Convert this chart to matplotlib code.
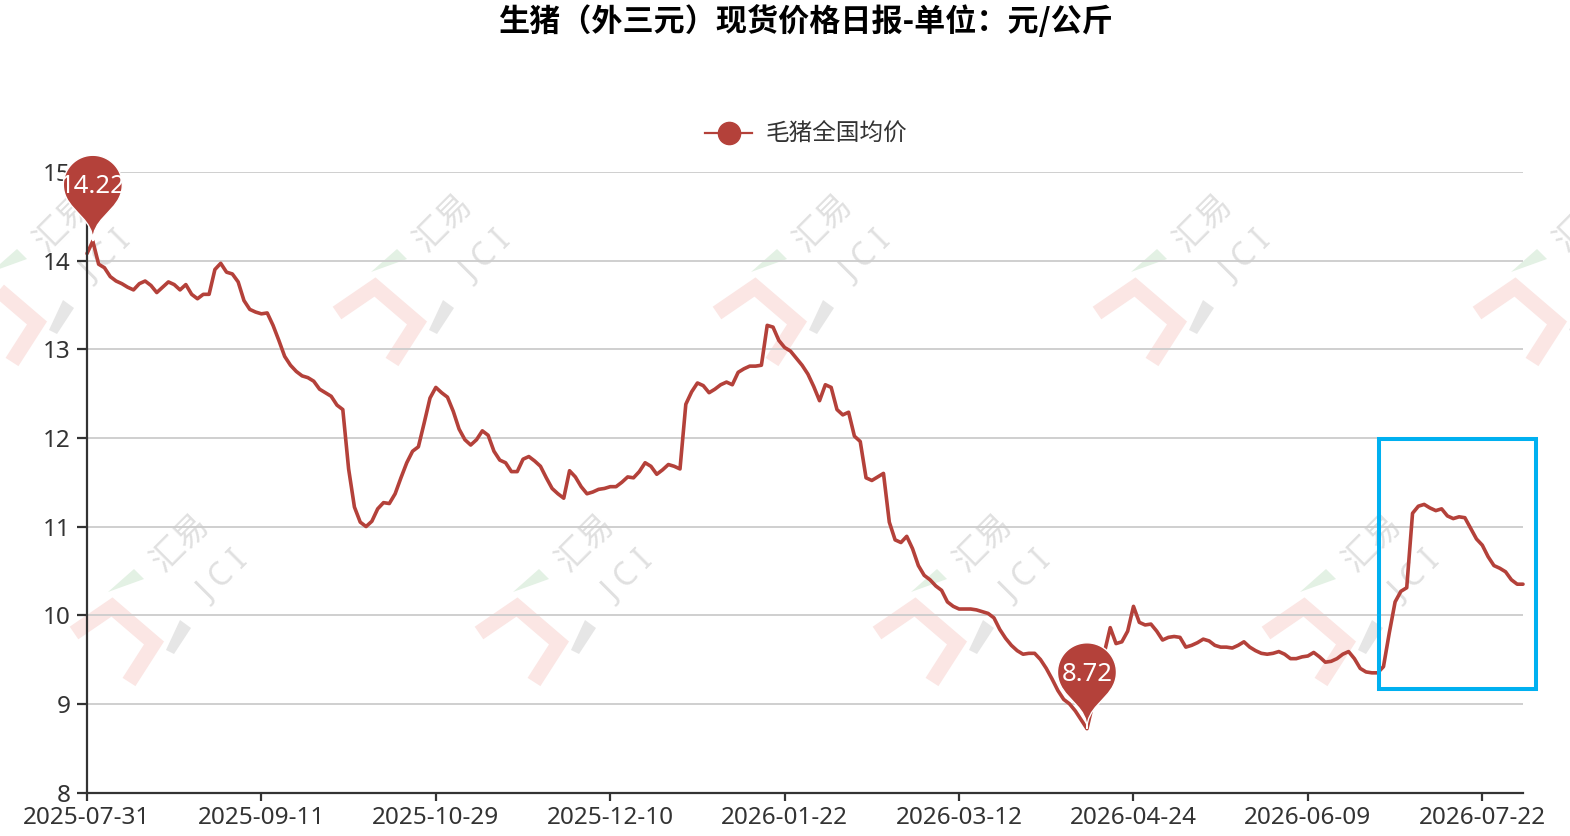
import numpy as np
import matplotlib
matplotlib.use('Agg')
import matplotlib.pyplot as plt
from matplotlib.path import Path
from matplotlib.patches import PathPatch, Polygon, Rectangle
from matplotlib.lines import Line2D
from matplotlib.transforms import Affine2D, ScaledTranslation

# ---------------- data ----------------
title = '生猪（外三元）现货价格日报-单位：元/公斤'
series_name = '毛猪全国均价'
tick_labels = ['2025-07-31', '2025-09-11', '2025-10-29', '2025-12-10', '2026-01-22',
               '2026-03-12', '2026-04-24', '2026-06-09', '2026-07-22']
label_step = 30   # one date label every 30 trading days

price = [
    14.08, 14.22, 13.96, 13.92, 13.82, 13.77, 13.74, 13.70, 13.67, 13.74,
    13.77, 13.72, 13.64, 13.70, 13.76, 13.73, 13.67, 13.73, 13.62, 13.57,
    13.62, 13.62, 13.90, 13.97, 13.87, 13.85, 13.76, 13.55, 13.45, 13.42,
    13.40, 13.41, 13.27, 13.10, 12.92, 12.82, 12.75, 12.70, 12.68, 12.64,
    12.55, 12.51, 12.47, 12.37, 12.32, 11.65, 11.22, 11.05, 11.00, 11.06,
    11.20, 11.27, 11.26, 11.37, 11.55, 11.72, 11.85, 11.90, 12.17, 12.45,
    12.57, 12.51, 12.46, 12.30, 12.10, 11.98, 11.92, 11.98, 12.08, 12.03,
    11.85, 11.75, 11.72, 11.62, 11.62, 11.76, 11.79, 11.74, 11.68, 11.55,
    11.43, 11.37, 11.32, 11.63, 11.56, 11.45, 11.37, 11.39, 11.42, 11.43,
    11.45, 11.45, 11.50, 11.56, 11.55, 11.62, 11.72, 11.68, 11.59, 11.64,
    11.70, 11.68, 11.65, 12.38, 12.52, 12.62, 12.59, 12.51, 12.55, 12.60,
    12.63, 12.60, 12.74, 12.78, 12.81, 12.81, 12.82, 13.27, 13.25, 13.10,
    13.02, 12.98, 12.90, 12.82, 12.72, 12.58, 12.42, 12.60, 12.57, 12.32,
    12.26, 12.29, 12.02, 11.96, 11.55, 11.52, 11.56, 11.60, 11.05, 10.85,
    10.82, 10.89, 10.75, 10.56, 10.45, 10.40, 10.33, 10.28, 10.15, 10.10,
    10.07, 10.07, 10.07, 10.06, 10.04, 10.02, 9.97, 9.84, 9.74, 9.66,
    9.60, 9.56, 9.57, 9.57, 9.50, 9.40, 9.28, 9.15, 9.05, 9.00,
    8.92, 8.82, 8.72, 9.00, 9.35, 9.58, 9.86, 9.68, 9.70, 9.82,
    10.10, 9.92, 9.89, 9.90, 9.82, 9.72, 9.75, 9.76, 9.75, 9.64,
    9.66, 9.69, 9.73, 9.71, 9.66, 9.64, 9.64, 9.63, 9.66, 9.70,
    9.64, 9.60, 9.57, 9.56, 9.57, 9.59, 9.56, 9.51, 9.51, 9.53,
    9.54, 9.58, 9.53, 9.47, 9.48, 9.51, 9.56, 9.59, 9.51, 9.40,
    9.36, 9.35, 9.35, 9.42, 9.80, 10.15, 10.27, 10.31, 11.15, 11.23,
    11.25, 11.21, 11.18, 11.20, 11.12, 11.09, 11.11, 11.10, 10.98, 10.86,
    10.79, 10.66, 10.56, 10.53, 10.49, 10.40, 10.35, 10.35,
]

# highlighted box (data coords: index range, price range)
box_x = (222.3, 249.3)
box_y = (9.17, 11.99)

# watermark centres (pixels, from top-left)
wm_top = [(63, 222), (443, 222), (823, 222), (1203, 222), (1583, 222)]
wm_bottom = [(180, 542), (585, 542), (983, 542), (1372, 542)]

# ---------------- style ----------------
W, H = 1570, 836
LINE = '#b4413a'
TXT = '#333333'
plt.rcParams['font.family'] = ['Noto Sans', 'Noto Sans CJK SC', 'DejaVu Sans']

fig = plt.figure(figsize=(W / 100, H / 100), dpi=100)
fig.patch.set_facecolor('white')
ax = fig.add_axes([87 / W, 1 - 792.5 / H, (1523 - 87) / W, (792.5 - 172) / H])
ax.set_facecolor('none')

x = np.arange(len(price))
ax.plot(x, price, color=LINE, lw=2.6, solid_joinstyle='round',
        solid_capstyle='round', zorder=3, clip_on=False)

ax.set_xlim(0, len(price) - 1)
ax.set_ylim(8, 15)
ax.set_yticks(range(8, 16))
ax.set_xticks(range(0, len(price), label_step))
ax.set_xticklabels(tick_labels)
ax.grid(axis='y', color='#cccccc', lw=1.3, zorder=1)
ax.set_axisbelow(True)
for s in ['top', 'right']:
    ax.spines[s].set_visible(False)
for s in ['left', 'bottom']:
    ax.spines[s].set_color(TXT)
    ax.spines[s].set_linewidth(1.6)
    ax.spines[s].set_zorder(4)
ax.tick_params(axis='y', length=7, width=1.6, color=TXT, labelsize=17.5,
               labelcolor=TXT, pad=5)
ax.tick_params(axis='x', length=6, width=1.6, color=TXT, labelsize=17.5,
               labelcolor=TXT, pad=4)


# ---------------- pins for max / min ----------------
def pin_path(r=29.5, h=98.5):
    dy = r * r / (h - r)
    cy = h - r - dy
    a = np.arcsin(dy / r)
    dx = np.cos(a) * r
    tx, ty = np.sin(a), np.cos(a)
    c1, c2 = r * 0.6, r * 0.7
    th = np.linspace(np.pi + a, -a, 60)
    verts = [(r * np.cos(t), cy + r * np.sin(t)) for t in th]
    codes = [Path.MOVETO] + [Path.LINETO] * (len(th) - 1)
    verts += [(dx - tx * c1, cy - dy - ty * c1), (0, c2), (0, 0),
              (0, c2), (-dx + tx * c1, cy - dy - ty * c1), (-dx, cy - dy),
              (-dx, cy - dy)]
    codes += [Path.CURVE4] * 6 + [Path.CLOSEPOLY]
    return Path(verts, codes), cy


pin, pin_cy = pin_path()
for idx in [int(np.argmax(price)), int(np.argmin(price))]:
    v = price[idx]
    tr = Affine2D() + ScaledTranslation(idx, v, ax.transData)
    ax.add_patch(PathPatch(pin, transform=tr, fc=LINE, ec='white', lw=1,
                           zorder=6, clip_on=False))
    ax.annotate(f'{v:.2f}', xy=(idx, v), xytext=(0, pin_cy * 0.72 - 1.5),
                textcoords='offset points', ha='center', va='center',
                color='white', fontsize=18.5, zorder=7, annotation_clip=False)

# highlight box
ax.add_patch(Rectangle((box_x[0], box_y[0]), box_x[1] - box_x[0], box_y[1] - box_y[0],
                       fill=False, ec='#00b0f0', lw=2.9, zorder=5, clip_on=False))

# ---------------- title & legend ----------------
fig.text(805 / W, 1 - 22 / H, title, ha='center', va='center', fontsize=22.4,
         fontweight='bold', family=['Noto Sans CJK SC'], color='black')

handle = Line2D([], [], color=LINE, lw=1.6, marker='o', markersize=16,
                markerfacecolor=LINE, markeredgecolor=LINE)
fig.legend([handle], [series_name], loc='center', bbox_to_anchor=(806 / W, 1 - 135 / H),
           frameon=False, fontsize=17, handlelength=2.0, handletextpad=0.55,
           labelcolor=TXT)


# ---------------- watermark ----------------
def watermark(cx, cy):
    def P(ddx, ddy):
        return ((cx + ddx) / W, 1 - (cy + ddy) / H)
    br = [P(-106, 91), P(-68, 65), P(-26, 101), P(-51, 140)]
    fig.add_artist(Line2D([p[0] for p in br], [p[1] for p in br],
                          transform=fig.transFigure, color='#fbe6e4', lw=11,
                          solid_joinstyle='miter', solid_capstyle='butt', zorder=-2))
    fig.add_artist(Polygon([P(-72, 50), P(-46, 27), P(-36, 37)], closed=True,
                           transform=fig.transFigure, fc='#e3f1e4', ec='none', zorder=-2))
    fig.add_artist(Polygon([P(-14, 108), P(0, 78), P(11, 86), P(-6, 112)], closed=True,
                           transform=fig.transFigure, fc='#e6e6e6', ec='none', zorder=-2))
    fig.text(*P(0, 0), '汇易', rotation=45, ha='center', va='center', fontsize=24,
             color='#e0e0e0', family=['Noto Sans CJK SC'], zorder=-2,
             rotation_mode='anchor')
    fig.text(*P(44, 35), 'J C I', rotation=45, ha='center', va='center', fontsize=23,
             color='#e0e0e0', family=['Noto Sans'], zorder=-2, rotation_mode='anchor')


for cx, cy in wm_top + wm_bottom:
    watermark(cx, cy)

fig.savefig('out.png', dpi=100, facecolor='white')
